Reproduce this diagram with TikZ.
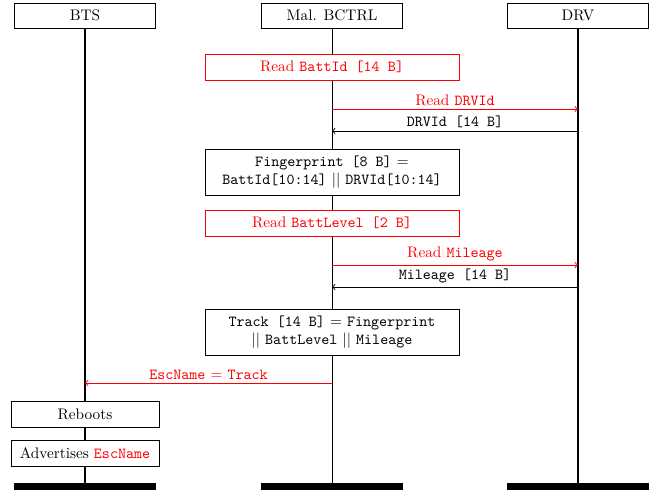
\documentclass[tikz,border=0pt]{standalone}
\usepackage{amsmath}
\usetikzlibrary{backgrounds}

\tikzset{
  inst/.style={draw, fill=white, minimum width=92.5pt, minimum height=16.3pt, inner sep=2pt},
  instend/.style={fill=black, minimum width=92.5pt, minimum height=4.6pt, inner sep=0pt},
  action/.style={draw, fill=white, minimum width=166pt, minimum height=17pt, inner sep=2pt, align=center},
  twoline/.style={action, minimum height=30pt},
  redaction/.style={action, draw=red, text=red},
  localbox/.style={draw, fill=white, minimum width=96.7pt, minimum height=17pt, inner sep=2pt},
  msg/.style={->, line width=0.6pt},
  redmsg/.style={msg, red},
  life/.style={line width=1.2pt},
  thinlife/.style={line width=0.6pt}
}

\begin{document}
\begin{tikzpicture}[x=0.6536pt, y=-0.6536pt]
\useasboundingbox (0,0) rectangle (651,490);
% instances
\node [inst] (bts) at (85,15.5) {BTS};
\node [inst] (bctrl) at (332,15.5) {Mal. BCTRL};
\node [inst] (drv) at (578,15.5) {DRV};
\node [instend] (btsend) at (85,486.5) {};
\node [instend] (bctrlend) at (332,486.5) {};
\node [instend] (drvend) at (578,486.5) {};
% actions of BCTRL
\node [redaction] (battid) at (332,67) {Read \texttt{BattId [14 B]}};
\node [twoline] (finger) at (332,172) {\texttt{Fingerprint [8 B]} $=$\\ \texttt{BattId[10:14]} $||$ \texttt{DRVId[10:14]}};
\node [redaction] (battlevel) at (332,223) {Read \texttt{BattLevel [2 B]}};
\node [twoline] (track) at (332,332) {\texttt{Track [14 B]} $=$ \texttt{Fingerprint}\\ $||$ \texttt{BattLevel} $||$ \texttt{Mileage}};
% actions of BTS
\node [localbox] (reboot) at (85,414) {Reboots};
\node [localbox] (advert) at (85,453) {Advertises \textcolor{red}{\texttt{EscName}}};
% lifelines
\begin{scope}[on background layer]
\draw [life] (bts.south) -- (btsend.north);
\draw [thinlife] (bctrl.south) -- (bctrlend.north);
\draw [life] (drv.south) -- (drvend.north);
\end{scope}
% messages
\draw [redmsg] (bctrl |- 0,109) -- node [above, inner sep=2pt] {Read \texttt{DRVId}} (drv |- 0,109);
\draw [msg] (drv |- 0,131) -- node [above, inner sep=2pt] {\texttt{DRVId [14 B]}} (bctrl |- 0,131);
\draw [redmsg] (bctrl |- 0,265) -- node [above, inner sep=2pt] {Read \texttt{Mileage}} (drv |- 0,265);
\draw [msg] (drv |- 0,287) -- node [above, inner sep=2pt] {\texttt{Mileage [14 B]}} (bctrl |- 0,287);
\draw [redmsg] (bctrl |- 0,383) -- node [above, inner sep=2pt] {\texttt{EscName} $=$ \texttt{Track}} (bts |- 0,383);
\end{tikzpicture}
\end{document}
